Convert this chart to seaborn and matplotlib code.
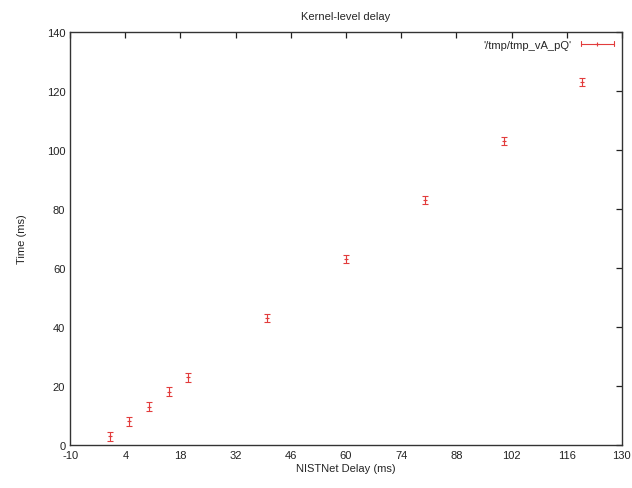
import matplotlib
matplotlib.use("Agg")
import matplotlib.pyplot as plt
import seaborn as sns
import pandas as pd
from matplotlib.lines import Line2D
from matplotlib.legend_handler import HandlerBase

delay = [0, 5, 10, 15, 20, 40, 60, 80, 100, 120]
time_ms = [3, 8, 13, 18, 23, 43, 63, 83, 103, 123]
err = [1.5, 1.5, 1.5, 1.5, 1.5, 1.5, 1.5, 1.5, 1.5, 1.5]
xticks = [-10, 4, 18, 32, 46, 60, 74, 88, 102, 116, 130]
yticks = [0, 20, 40, 60, 80, 100, 120, 140]
label = "'/tmp/tmp_vA_pQ'"

sns.set_style("white")
plt.rcParams['font.family'] = ['Liberation Sans', 'DejaVu Sans']
plt.rcParams['axes.unicode_minus'] = False

df = pd.DataFrame({"delay": delay, "time": time_ms, "err": err})

red = '#e23c3c'


class ErrHandler(HandlerBase):
    def create_artists(self, legend, orig_handle, xdescent, ydescent,
                       width, height, fontsize, trans):
        y = height / 2 - ydescent
        x0, x1 = -xdescent, width - xdescent
        arts = [Line2D([x0, x1], [y, y], color=red, lw=0.8),
                Line2D([x0, x0], [y - 2, y + 2], color=red, lw=0.8),
                Line2D([x1, x1], [y - 2, y + 2], color=red, lw=0.8),
                Line2D([(x0 + x1) / 2], [y], color=red, marker='+',
                       markersize=3, mew=0.8, lw=0)]
        for a in arts:
            a.set_transform(trans)
        return arts


fig = plt.figure(figsize=(6.32, 4.89), dpi=100)
ax = fig.add_axes([0.111, 0.088, 0.873, 0.845])
ax.errorbar(df["delay"], df["time"], yerr=df["err"], fmt='none',
            ecolor=red, elinewidth=0.8, capsize=2, capthick=0.8)
sns.scatterplot(data=df, x="delay", y="time", ax=ax, marker='+', color=red,
                s=10, linewidth=0.8, legend=False)

ax.set_xlim(-10, 130)
ax.set_ylim(0, 140)
ax.set_xticks(xticks)
ax.set_yticks(yticks)
ax.tick_params(direction='in', length=4, width=0.9, labelsize=8,
               top=True, right=True, colors='#222222')
for s in ax.spines.values():
    s.set_linewidth(1.0)
    s.set_color('#333333')
ax.set_xlabel("NISTNet Delay (ms)", fontsize=8, labelpad=2)
ax.set_ylabel("Time (ms)", fontsize=8, labelpad=14)
ax.set_title("Kernel-level delay", fontsize=8, pad=9)

proxy = Line2D([], [], color=red)
ax.legend([proxy], [label], handler_map={Line2D: ErrHandler()},
          loc='upper right', frameon=False, markerfirst=False, fontsize=8,
          handlelength=3, borderaxespad=0.3)

fig.savefig("out.png", dpi=100)
